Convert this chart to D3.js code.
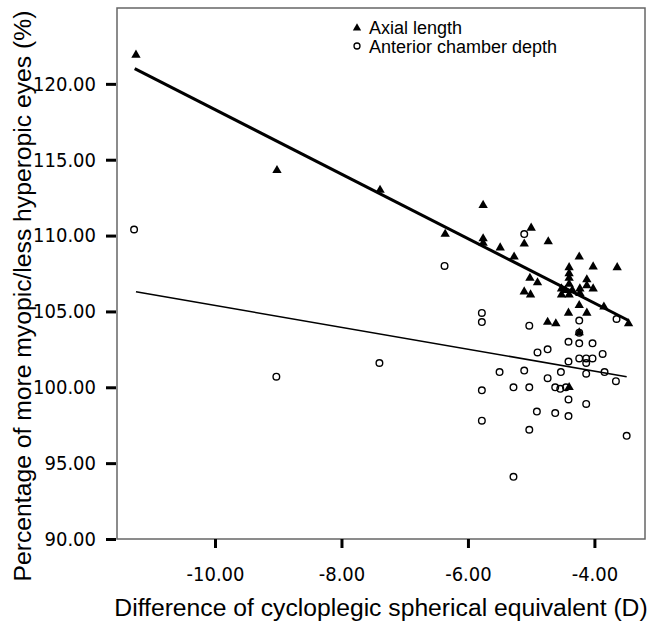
<!DOCTYPE html>
<html>
<head>
<meta charset="utf-8">
<script src="https://cdn.jsdelivr.net/npm/d3@7"></script>
<style>
  body { margin: 0; background: #fff; }
  svg { display: block; }
  .tick text { font-family: "Liberation Sans Narrow", "DejaVu Sans Condensed", sans-serif; font-size: 20px; fill: #000; }
  .title { font-family: "Liberation Sans", Arial, sans-serif; font-size: 24.7px; fill: #000; }
  .legend text { font-family: "Liberation Sans", Arial, sans-serif; font-size: 18px; fill: #000; }
</style>
</head>
<body>
<div id="chart"></div>
<script>
// tick values
var xTicks = [-10, -8, -6, -4];
var yTicks = [90, 95, 100, 105, 110, 115, 120];

// axial length (triangles)
var axialSE  = [-11.25, -9.02, -7.39, -6.36, -5.76, -5.76, -5.76, -5.49, -5.27, -5.00, -5.11, -4.73,
                -4.24, -4.02, -3.64, -5.02, -4.90, -5.11, -5.01, -4.40, -4.40, -4.40, -4.40, -4.46,
                -4.52, -4.40, -4.35, -4.52, -4.12, -4.12, -4.02, -4.23, -4.23, -3.85, -3.46, -4.24,
                -4.41, -4.12, -4.74, -4.61, -4.24, -4.40];
var axialPct = [121.9, 114.3, 113.0, 110.1, 112.0, 109.8, 109.5, 109.2, 108.6, 110.5, 109.45, 109.6,
                108.6, 107.95, 107.9, 107.2, 106.9, 106.3, 106.1, 107.9, 107.5, 107.2, 106.8, 106.4,
                106.1, 106.1, 106.4, 106.5, 107.1, 106.7, 106.5, 106.5, 106.2, 105.3, 104.2, 105.4,
                104.9, 104.9, 104.3, 104.2, 103.6, 100.0];

// anterior chamber depth (open circles)
var acdSE  = [-11.28, -9.03, -7.40, -6.37, -5.78, -5.78, -5.11, -5.03, -4.24, -4.24, -4.41, -4.24,
              -4.03, -4.74, -4.90, -3.87, -4.41, -4.24, -4.13, -4.03, -4.13, -5.50, -5.11, -4.53,
              -4.13, -3.84, -3.66, -4.74, -5.78, -5.28, -5.03, -4.62, -4.54, -4.45, -4.41, -4.13,
              -4.91, -4.62, -4.41, -5.78, -5.03, -3.49, -5.28, -3.65];
var acdPct = [110.4, 100.7, 101.6, 108.0, 104.9, 104.3, 110.1, 104.06, 104.4, 103.6, 103.0, 102.9,
              102.9, 102.5, 102.3, 102.2, 101.7, 101.9, 101.9, 101.9, 101.6, 101.0, 101.1, 101.0,
              100.9, 101.0, 100.4, 100.6, 99.8, 100.0, 100.0, 100.0, 99.9, 100.0, 99.2, 98.9,
              98.4, 98.3, 98.1, 97.8, 97.2, 96.8, 94.1, 104.5];

// fitted lines, end points
var axialFitSE = [-11.27, -3.46], axialFitPct = [121.0, 104.4];
var acdFitSE   = [-11.25, -3.49], acdFitPct   = [106.3, 100.7];

var legendNames = ["Axial length", "Anterior chamber depth"];

var width = 658, height = 624;
var svg = d3.select("#chart").append("svg")
    .attr("width", width)
    .attr("height", height);

var x = d3.scaleLinear().domain([-11.55, -3.2]).range([117, 645]);
var y = d3.scaleLinear().domain([90, 125]).range([539, 8]);
var fmt = d => d.toFixed(2);   // plain hyphen minus like the original

// frame
svg.append("rect")
    .attr("x", x.range()[0]).attr("y", y.range()[1])
    .attr("width", x.range()[1] - x.range()[0])
    .attr("height", y.range()[0] - y.range()[1])
    .style("fill", "none").style("stroke", "#666").style("stroke-width", 1.5);

// axes
var xAxis = svg.append("g")
    .attr("transform", "translate(0," + y(90) + ")")
    .call(d3.axisBottom(x).tickValues(xTicks).tickFormat(fmt).tickSize(9).tickPadding(19));
xAxis.select(".domain").remove();
xAxis.selectAll(".tick line").style("stroke", "#000").style("stroke-width", 3);

var yAxis = svg.append("g")
    .attr("transform", "translate(116,0)")
    .call(d3.axisLeft(y).tickValues(yTicks).tickFormat(fmt).tickSize(10).tickPadding(10));
yAxis.select(".domain").remove();
yAxis.selectAll(".tick line").style("stroke", "#000").style("stroke-width", 3);

// axis titles
svg.append("text")
    .attr("class", "title")
    .attr("x", (x.range()[0] + x.range()[1]) / 2)
    .attr("y", 616)
    .attr("text-anchor", "middle")
    .text("Difference of cycloplegic spherical equivalent (D)");

svg.append("text")
    .attr("class", "title")
    .attr("transform", "translate(31,296) rotate(-90)")
    .attr("text-anchor", "middle")
    .text("Percentage of more myopic/less hyperopic eyes (%)");

// fit lines
var line = d3.line().x(d => x(d[0])).y(d => y(d[1]));
svg.append("path")
    .datum(d3.zip(axialFitSE, axialFitPct))
    .attr("d", line)
    .style("fill", "none").style("stroke", "#000").style("stroke-width", 3);
svg.append("path")
    .datum(d3.zip(acdFitSE, acdFitPct))
    .attr("d", line)
    .style("fill", "none").style("stroke", "#000").style("stroke-width", 1.5);

// points
var tri = d3.symbol().type(d3.symbolTriangle).size(38);

svg.append("g").selectAll("circle")
    .data(d3.zip(acdSE, acdPct))
    .enter()
    .append("circle")
    .attr("cx", d => x(d[0]))
    .attr("cy", d => y(d[1]))
    .attr("r", 3.3)
    .style("fill", "none").style("stroke", "#000").style("stroke-width", 1.4);

svg.append("g").selectAll("path")
    .data(d3.zip(axialSE, axialPct))
    .enter()
    .append("path")
    .attr("d", tri)
    .attr("transform", d => "translate(" + x(d[0]) + "," + y(d[1]) + ")")
    .style("fill", "#000");

// legend
var legend = svg.append("g").attr("class", "legend");
legend.append("path")
    .attr("d", d3.symbol().type(d3.symbolTriangle).size(30))
    .attr("transform", "translate(357,28)")
    .style("fill", "#000");
legend.append("circle")
    .attr("cx", 357).attr("cy", 46).attr("r", 3)
    .style("fill", "none").style("stroke", "#000").style("stroke-width", 1.3);
legend.selectAll("text")
    .data(legendNames)
    .enter()
    .append("text")
    .attr("x", 369)
    .attr("y", (d, i) => 34 + i * 18.5)
    .text(d => d);
</script>
</body>
</html>
